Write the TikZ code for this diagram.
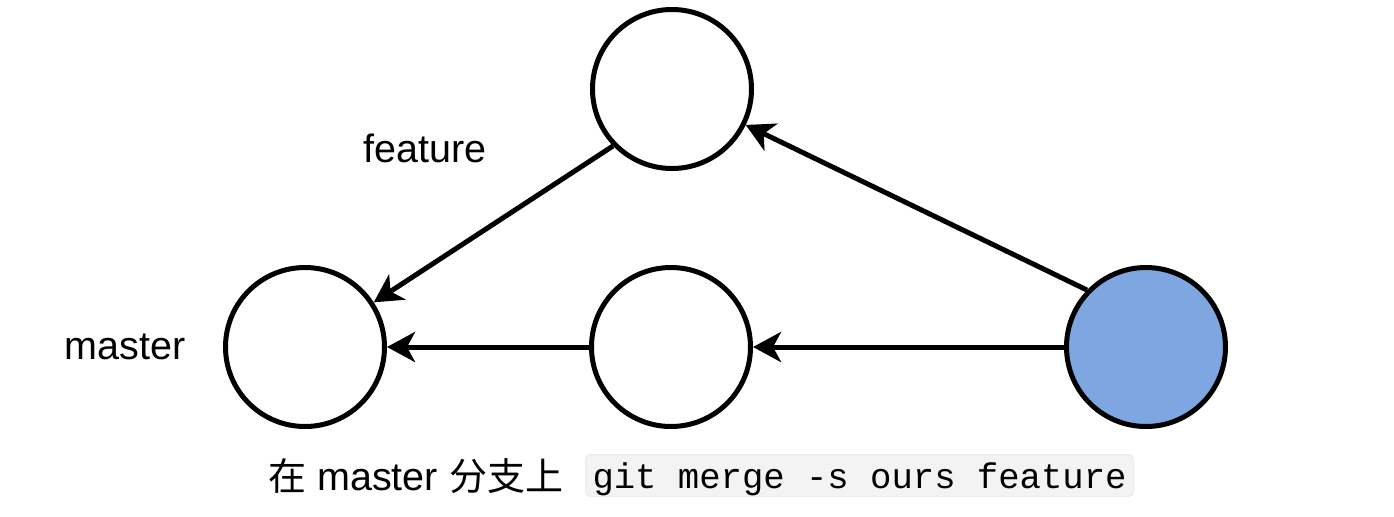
\documentclass[tikz,border=0pt]{standalone}
\usepackage{fontspec}
\usepackage{tikz}
\usetikzlibrary{arrows.meta}
\setmainfont{Liberation Sans}
\setmonofont{Liberation Mono}
\newfontfamily\cjk{Noto Sans CJK SC}
\definecolor{mergeblue}{HTML}{7EA6E0}
\definecolor{codegray}{HTML}{F3F3F3}

\begin{document}
\begin{tikzpicture}[line join=round,>={Stealth[length=14pt,width=15pt,inset=4pt]},x=0.5pt,y=-0.5pt,
    commit/.style={circle,draw=black,line width=2.5pt,minimum size=79.5pt,inner sep=0pt,fill=white},
    edge/.style={->,line width=2.5pt,color=black},
    lbl/.style={font=\fontsize{19.75}{22}\selectfont}]
     \useasboundingbox (0,0) rectangle (1394,516); % Rand wie im Original

     \node[commit] (fea) at (672,89)  {}; % feature
     \node[commit] (mst) at (305,347) {}; % master
     \node[commit] (mid) at (671,347) {}; % master, zweiter Commit
     \node[commit,fill=mergeblue] (mrg) at (1146,347) {}; % Merge-Commit

     \draw[edge] (fea.224) -- (mst.33);
     \draw[edge] (mid) -- (mst);
     \draw[edge] (mrg) -- (mid);
     \draw[edge] (mrg.136) -- (fea.-26);

     \node[lbl] (feaname) at (425,148) {feature};
     \node[lbl] (mstname) at (125,347) {master};

     \node[lbl,anchor=base west,inner sep=0pt] (cmdtext) at (268,490) {{\cjk\fontsize{19}{22}\selectfont 在} master {\cjk\fontsize{19}{22}\selectfont 分支上}};
     \node[anchor=north west,fill=codegray,draw=black!8,rounded corners=2.5pt,line width=0.5pt,
           text height=14pt,text depth=1.5pt,inner ysep=2.75pt,inner xsep=3.5pt,
           font=\ttfamily\fontsize{17.8}{20}\selectfont] (cmd) at (585,454) {git merge -s ours feature};
\end{tikzpicture}
\end{document}
